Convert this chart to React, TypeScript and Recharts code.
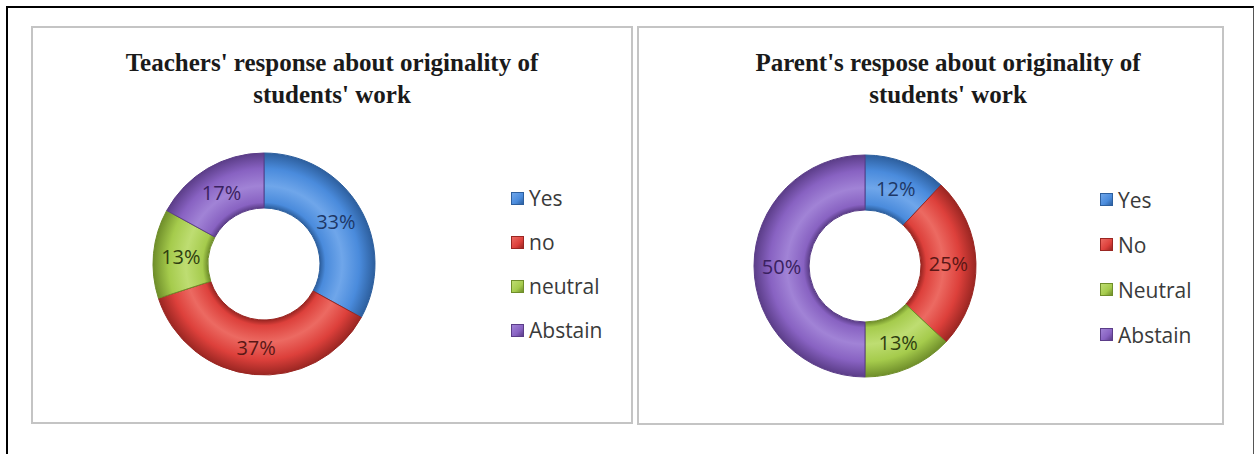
import React from "react";
import { PieChart, Pie, Cell, Legend } from "recharts";

const teacherCategories = ["Yes", "no", "neutral", "Abstain"];
const teacherValues = [33, 37, 13, 17];
const teacherTitle = ["Teachers' response about originality of", "students' work"];

const parentCategories = ["Yes", "No", "Neutral", "Abstain"];
const parentValues = [12, 25, 13, 50];
const parentTitle = ["Parent's respose about originality of", "students' work"];

const sliceColors = ["#4A8BDC", "#DD403B", "#A5CB4C", "#8862C2"];
const lightColors = ["#6FA6EA", "#EC6A62", "#BEDD72", "#A183D6"];
const strokeColors = ["#2D5F9E", "#9A2622", "#6F8E2A", "#5B3D88"];
const labelColors = ["#1E3867", "#5A1715", "#2F3E10", "#3A2160"];

const teacherData = teacherCategories.map((name, i) => ({ name, value: teacherValues[i] }));
const parentData = parentCategories.map((name, i) => ({ name, value: parentValues[i] }));

const RAD = Math.PI / 180;
const INNER = 56;
const OUTER = 111;
const MARGIN = 5;

const renderLabel = (props: any) => {
  const { cx, cy, midAngle, innerRadius, outerRadius, value, index } = props;
  const r = innerRadius + (outerRadius - innerRadius) / 2;
  const x = cx + r * Math.cos(-midAngle * RAD);
  const y = cy + r * Math.sin(-midAngle * RAD);
  return (
    <text
      x={x}
      y={y}
      fill={labelColors[index]}
      textAnchor="middle"
      dominantBaseline="central"
      fontSize={20}
      fontFamily="'Open Sans', sans-serif"
    >
      {`${value}%`}
    </text>
  );
};

const makeLegend = (rowHeight: number, categories: string[]) => (props: any) => {
  const payload = [...(props.payload || [])].sort(
    (a: any, b: any) => categories.indexOf(a.value) - categories.indexOf(b.value)
  );
  return (
    <div style={{ fontFamily: "'Open Sans', sans-serif", fontSize: 21, color: "#3A3A3A" }}>
      {payload.map((entry: any) => {
        const i = categories.indexOf(entry.value);
        return (
          <div key={entry.value} style={{ height: rowHeight, display: "flex", alignItems: "center" }}>
            <span
              style={{
                display: "inline-block",
                width: 13,
                height: 13,
                background: `linear-gradient(135deg, ${lightColors[i]}, ${sliceColors[i]} 60%, ${strokeColors[i]})`,
                border: `1px solid ${strokeColors[i]}`,
                boxSizing: "border-box",
                marginRight: 5,
              }}
            />
            <span>{entry.value}</span>
          </div>
        );
      })}
    </div>
  );
};

type PanelProps = {
  id: string;
  left: number;
  top: number;
  width: number;
  height: number;
  title: string[];
  titleCenter: number;
  categories: string[];
  data: { name: string; value: number }[];
  cx: number;
  cy: number;
  legendLeft: number;
  legendTop: number;
  rowHeight: number;
};

const Panel = (p: PanelProps) => {
  const innerW = p.width - 4;
  const innerH = p.height - 4;
  const ratio = INNER / OUTER;
  return (
    <div
      style={{
        position: "absolute",
        left: p.left,
        top: p.top,
        width: p.width,
        height: p.height,
        border: "2px solid #C4C4C4",
        boxSizing: "border-box",
        background: "#fff",
      }}
    >
      <svg width={0} height={0} style={{ position: "absolute" }}>
        <defs>
          {sliceColors.map((c, i) => (
            <radialGradient
              key={i}
              id={`grad-${p.id}-${i}`}
              gradientUnits="userSpaceOnUse"
              cx={p.cx + MARGIN}
              cy={p.cy + MARGIN}
              r={OUTER}
            >
              <stop offset={ratio} stopColor={strokeColors[i]} />
              <stop offset={ratio + 0.05} stopColor={c} />
              <stop offset={ratio + 0.2} stopColor={lightColors[i]} />
              <stop offset={0.86} stopColor={c} />
              <stop offset={1} stopColor={strokeColors[i]} />
            </radialGradient>
          ))}
        </defs>
      </svg>
      <div
        style={{
          position: "absolute",
          left: p.titleCenter - 270,
          width: 540,
          top: 19,
          textAlign: "center",
          fontFamily: "'Liberation Serif', 'Times New Roman', serif",
          fontWeight: "bold",
          fontSize: 25,
          lineHeight: "32px",
          color: "#1a1a1a",
          zIndex: 2,
        }}
      >
        {p.title.map((t, i) => (
          <div key={i}>{t}</div>
        ))}
      </div>
      <PieChart width={innerW} height={innerH} margin={{ top: MARGIN, right: MARGIN, bottom: MARGIN, left: MARGIN }}>
        <Pie
          data={p.data}
          dataKey="value"
          nameKey="name"
          cx={p.cx}
          cy={p.cy}
          innerRadius={INNER}
          outerRadius={OUTER}
          startAngle={90}
          endAngle={-270}
          label={renderLabel}
          labelLine={false}
          isAnimationActive={false}
        >
          {p.data.map((_, i) => (
            <Cell key={i} fill={`url(#grad-${p.id}-${i})`} stroke={strokeColors[i]} strokeWidth={1} />
          ))}
        </Pie>
        <Legend
          layout="vertical"
          content={makeLegend(p.rowHeight, p.categories)}
          wrapperStyle={{ position: "absolute", left: p.legendLeft, top: p.legendTop, width: 140 }}
        />
      </PieChart>
    </div>
  );
};

export default function App() {
  return (
    <div
      style={{
        position: "absolute",
        left: 0,
        top: 0,
        width: 1255,
        height: 454,
        background: "#fff",
        overflow: "hidden",
      }}
    >
      <div
        style={{
          position: "absolute",
          left: 6,
          top: 6,
          width: 1248,
          height: 470,
          borderTop: "2px solid #000",
          borderLeft: "2px solid #000",
          borderRight: "1px solid #555",
          boxSizing: "border-box",
        }}
      />
      <Panel
        id="t"
        left={31}
        top={26}
        width={602}
        height={398}
        title={teacherTitle}
        titleCenter={299}
        categories={teacherCategories}
        data={teacherData}
        cx={226}
        cy={231}
        legendLeft={478}
        legendTop={148}
        rowHeight={44}
      />
      <Panel
        id="p"
        left={637}
        top={26}
        width={587}
        height={399}
        title={parentTitle}
        titleCenter={309}
        categories={parentCategories}
        data={parentData}
        cx={221}
        cy={233}
        legendLeft={461}
        legendTop={149}
        rowHeight={45}
      />
    </div>
  );
}
